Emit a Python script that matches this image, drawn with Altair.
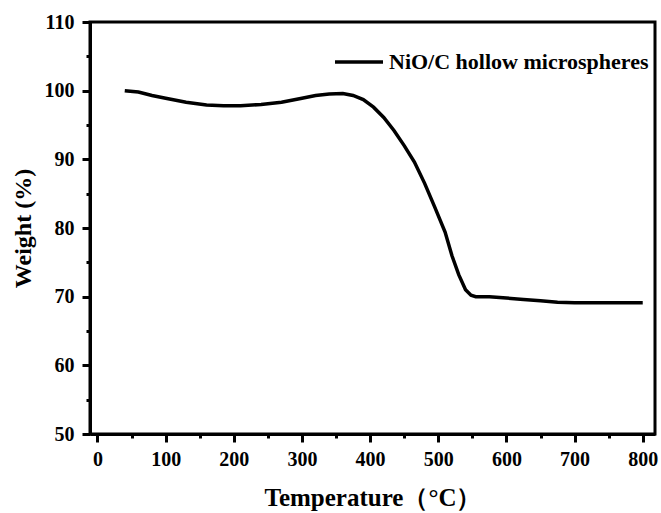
import altair as alt
import pandas as pd

temperature = [40, 60, 80, 100, 130, 160, 185, 210, 240, 270, 300, 320, 340, 360,
               375, 390, 405, 420, 435, 450, 465, 480, 495, 510, 520, 530, 540,
               548, 555, 575, 600, 625, 650, 675, 700, 750, 800]
weight = [100.0, 99.8, 99.3, 98.9, 98.3, 97.9, 97.8, 97.8, 98.0, 98.3, 98.9, 99.3,
          99.5, 99.6, 99.3, 98.7, 97.6, 96.1, 94.2, 92.0, 89.6, 86.5, 83.0, 79.4,
          76.0, 73.2, 71.0, 70.2, 70.0, 70.0, 69.8, 69.6, 69.4, 69.2, 69.1, 69.1, 69.1]
series = "NiO/C hollow microspheres"

x_major = [0, 100, 200, 300, 400, 500, 600, 700, 800]
x_minor = [50, 150, 250, 350, 450, 550, 650, 750]
y_major = [50, 60, 70, 80, 90, 100, 110]
y_minor = [55, 65, 75, 85, 95, 105]

df = pd.DataFrame({"T": temperature, "W": weight, "s": [series] * len(temperature)})

FONT = "Liberation Serif"
xscale = alt.Scale(domain=[-11, 818], nice=False, zero=False)
yscale = alt.Scale(domain=[50, 110], nice=False, zero=False)

main = alt.Chart(df).mark_line(strokeWidth=3.5, color="black").encode(
    x=alt.X("T:Q", scale=xscale,
            axis=alt.Axis(values=x_major, title="Temperature（°C）", tickSize=8,
                          tickWidth=3, labelPadding=7, titlePadding=16,
                          titleFontSize=25, domainWidth=3, grid=False)),
    y=alt.Y("W:Q", scale=yscale,
            axis=alt.Axis(values=y_major, title="Weight (%)", tickSize=8,
                          tickWidth=3, labelPadding=8, titlePadding=9,
                          domainWidth=3, grid=False)),
    color=alt.Color("s:N", scale=alt.Scale(range=["black"]),
                    legend=alt.Legend(title=None, orient="none", legendX=243,
                                      legendY=14, symbolType="stroke",
                                      symbolStrokeWidth=3.5, symbolSize=2304,
                                      labelFont=FONT, labelFontSize=22,
                                      labelFontWeight="bold", labelColor="black",
                                      labelOffset=4, labelLimit=400)),
)

minor = alt.Chart(df).mark_line(opacity=0).encode(
    x=alt.X("T:Q", scale=xscale,
            axis=alt.Axis(values=x_minor, labels=False, title=None, tickSize=4,
                          tickWidth=3, domain=False, grid=False, orient="bottom")),
    y=alt.Y("W:Q", scale=yscale,
            axis=alt.Axis(values=y_minor, labels=False, title=None, tickSize=4,
                          tickWidth=3, domain=False, grid=False, orient="left")),
)

chart = alt.layer(main, minor).resolve_axis(x="independent", y="independent").properties(
    width=565, height=412,
    autosize=alt.AutoSizeParams(type="none"),
    padding={"left": 90, "top": 22, "right": 6, "bottom": 79},
    background="white",
).configure_view(stroke="black", strokeWidth=3).configure_axis(
    labelFont=FONT, labelFontSize=20, labelFontWeight="bold", labelColor="black",
    titleFont=FONT, titleFontSize=24, titleFontWeight="bold", titleColor="black",
    domainColor="black", tickColor="black",
)

chart.save("out.html", embed_options={"renderer": "svg", "actions": False})
